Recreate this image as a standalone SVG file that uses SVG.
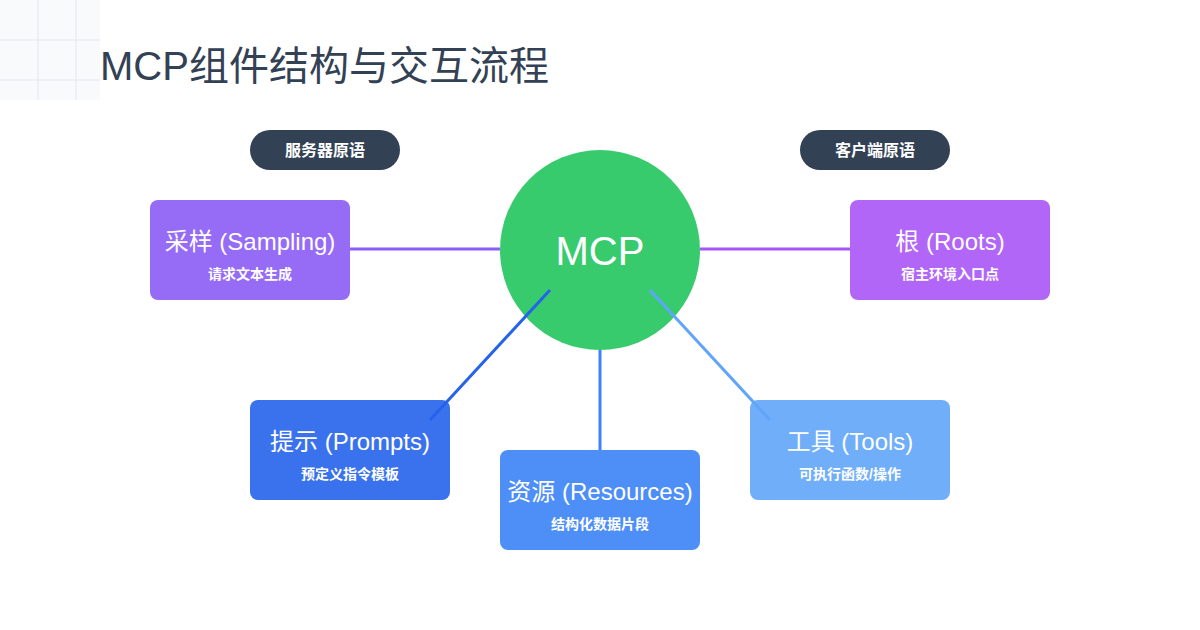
<svg xmlns="http://www.w3.org/2000/svg" width="1200" height="630" viewBox="0 0 1200 630">
<defs>
<style>
.t{font-family:"Liberation Sans","Noto Sans CJK SC",sans-serif;fill:#fff;text-anchor:middle}
.title{font-size:24px}
.sub{font-size:14px;font-weight:bold}
.pill{font-size:16px;font-weight:bold}
.grid{stroke:#e2e8f0;stroke-width:1}
.box{opacity:0.9}
.ln{stroke-width:3;fill:none}
</style>
</defs>
<rect width="1200" height="630" fill="#ffffff"/>
<g id="grid">
<rect x="0" y="0" width="100" height="100" fill="#f8fafc"/>
<line class="grid" x1="38" y1="0" x2="38" y2="100"/>
<line class="grid" x1="76" y1="0" x2="76" y2="100"/>
<line class="grid" x1="0" y1="40" x2="100" y2="40"/>
<line class="grid" x1="0" y1="80" x2="100" y2="80"/>
</g>
<text x="100" y="80" style="font-family:'Liberation Sans','Noto Sans CJK SC',sans-serif;font-size:40px;fill:#334155">MCP组件结构与交互流程</text>
<g id="pill-server">
<rect x="250" y="130" width="150" height="40" rx="20" fill="#334155"/>
<text class="t pill" x="325" y="156">服务器原语</text>
</g>
<g id="pill-client">
<rect x="800" y="130" width="150" height="40" rx="20" fill="#334155"/>
<text class="t pill" x="875" y="156">客户端原语</text>
</g>
<g id="mcp">
<circle cx="600" cy="250" r="100" fill="#22c55e" class="box"/>
<text class="t" x="600" y="265" style="font-size:40px">MCP</text>
</g>
<g id="sampling">
<rect class="box" x="150" y="200" width="200" height="100" rx="8" fill="#8b5cf6"/>
<text class="t title" x="250" y="250">采样 (Sampling)</text>
<text class="t sub" x="250" y="279">请求文本生成</text>
</g>
<g id="roots">
<rect class="box" x="850" y="200" width="200" height="100" rx="8" fill="#a855f7"/>
<text class="t title" x="950" y="250">根 (Roots)</text>
<text class="t sub" x="950" y="279">宿主环境入口点</text>
</g>
<g id="prompts">
<rect class="box" x="250" y="400" width="200" height="100" rx="8" fill="#2563eb"/>
<text class="t title" x="350" y="450">提示 (Prompts)</text>
<text class="t sub" x="350" y="479">预定义指令模板</text>
</g>
<g id="resources">
<rect class="box" x="500" y="450" width="200" height="100" rx="8" fill="#3b82f6"/>
<text class="t title" x="600" y="500">资源 (Resources)</text>
<text class="t sub" x="600" y="529">结构化数据片段</text>
</g>
<g id="tools">
<rect class="box" x="750" y="400" width="200" height="100" rx="8" fill="#60a5fa"/>
<text class="t title" x="850" y="450">工具 (Tools)</text>
<text class="t sub" x="850" y="479">可执行函数/操作</text>
</g>
<g id="connectors">
<line class="ln" x1="350" y1="249" x2="500" y2="249" stroke="#8b5cf6"/>
<line class="ln" x1="700" y1="249" x2="850" y2="249" stroke="#a855f7"/>
<line class="ln" x1="550" y1="290" x2="430" y2="420" stroke="#2563eb"/>
<line class="ln" x1="600" y1="350" x2="600" y2="450" stroke="#3b82f6"/>
<line class="ln" x1="650" y1="290" x2="770" y2="420" stroke="#60a5fa"/>
</g>
</svg>
